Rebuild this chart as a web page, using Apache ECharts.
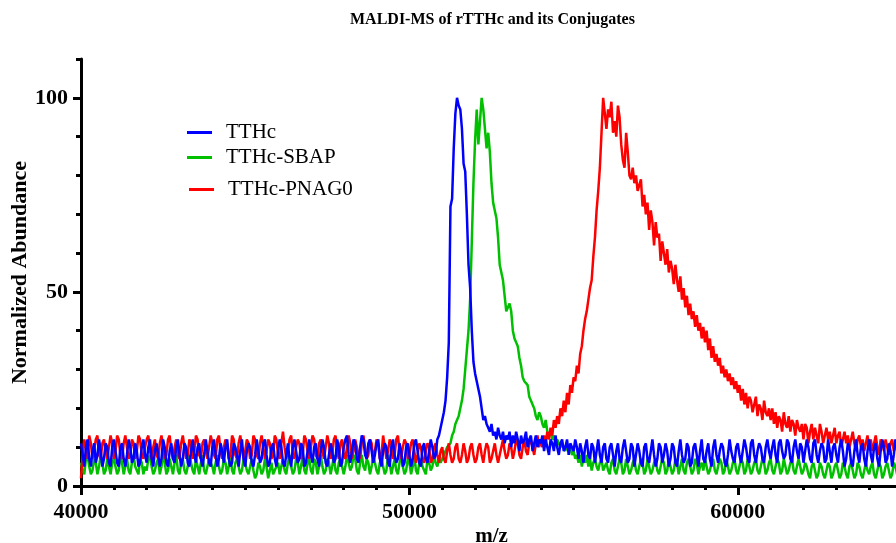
<!DOCTYPE html>
<html>
<head>
<meta charset="utf-8">
<script src="https://cdn.jsdelivr.net/npm/echarts@6/dist/echarts.min.js"></script>
<style>html,body{margin:0;padding:0;background:#fff}#c{width:896px;height:543px}</style>
</head>
<body>
<div id="c"></div>
<script>
// m/z sampling grid
const mzStart = 40000;
const mzStep = 50;

const seriesNames = ['TTHc', 'TTHc-SBAP', 'TTHc-PNAG0'];
const xTickLabels = [40000, 50000, 60000];
const yTickLabels = [0, 50, 100];

// Normalized abundance, one value every 50 m/z from 40000 to 65000 (20 per row = 1000 m/z)
const tthc = [
  11,8,5,10,12,  7,5,9,11,6,  8,12,9,5,7,  11,10,6,5,10,
  12,9,6,5,10,  11,7,5,8,12,  10,6,7,11,9,  5,6,10,12,8,
  6,10,12,7,5,  9,11,8,5,7,  12,10,6,5,9,  11,7,6,10,12,
  8,5,7,11,10,  6,5,9,12,8,  6,10,11,7,5,  8,12,9,6,5,
  10,12,8,5,7,  11,9,6,10,12,  7,5,6,11,10,  8,5,9,12,7,
  5,9,11,10,6,  5,8,12,9,6,  7,11,12,8,5,  6,10,11,7,5,
  9,12,10,6,5,  8,11,7,5,10,  12,9,6,7,11,  10,5,6,9,12,
  8,6,10,11,7,  5,9,12,10,6,  5,8,11,9,6,  7,12,10,5,6,
  10,12,13,8,6,  9,12,11,7,6,  10,13,12,8,7,  11,12,9,6,8,
  11,12,7,5,9,  11,10,6,5,10,  12,8,6,7,11,  9,5,6,10,11,
  8,5,7,11,12,  9,6,5,10,11,  7,6,9,12,10,  7,8,12,13,15,
  17,19,22,28,37,  72,74,87,96,100,  98,97,92,83,81,  70,57,51,40,32,
  29,27,25,23,20,  17,18,16,15,14,  16,13,14,12,15,  13,12,14,11,13,
  12,14,10,13,11,  14,12,9,13,11,  12,14,10,12,13,  9,11,13,10,12,
  11,13,9,12,10,  8,12,11,9,13,  10,8,11,12,9,  10,12,8,11,10,
  9,12,10,7,11,  9,6,10,12,8,  7,11,10,6,9,  12,8,6,10,11,
  7,6,10,11,8,  5,9,11,7,6,  10,12,9,6,7,  11,10,5,8,11,
  9,6,5,10,11,  7,6,9,12,8,  5,7,11,10,6,  8,11,9,5,7,
  11,10,6,5,9,  12,8,6,7,11,  10,5,6,10,11,  8,5,9,12,7,
  6,9,11,7,5,  10,12,8,6,9,  11,10,6,5,8,  12,9,7,6,10,
  11,8,6,9,12,  10,7,6,11,12,  8,6,9,11,10,  7,6,10,12,9,
  7,10,12,8,6,  11,12,9,7,8,  12,11,7,6,10,  12,9,7,11,10,
  6,9,12,10,7,  6,11,12,8,6,  9,11,10,6,7,  12,9,6,10,11,
  8,6,10,12,9,  5,7,11,10,6,  5,9,12,8,6,  10,11,7,5,9,
  12,8,6,10,11,  7,5,9,12,10,  6,7,11,9,5,  8,12,10,6,7,
  9
];

const tthcSbap = [
  6,4,3,7,8,  5,3,4,7,6,  3,5,8,6,3,  4,7,5,3,6,
  7,5,3,4,8,  6,3,5,7,4,  3,6,8,5,4,  3,7,6,3,5,
  4,7,8,5,3,  4,6,7,3,5,  8,6,3,4,7,  5,3,6,8,4,
  3,6,7,4,3,  5,8,6,4,3,  7,5,3,6,8,  4,3,5,7,6,
  5,3,6,8,5,  3,4,7,6,3,  5,8,4,3,6,  7,5,3,4,7,
  6,4,3,5,7,  4,2,3,6,5,  3,4,7,5,2,  4,6,3,3,5,
  6,3,5,7,4,  3,6,8,5,3,  4,7,6,3,5,  8,4,3,6,7,
  4,3,7,6,3,  5,8,5,3,4,  7,6,3,5,8,  4,3,6,7,5,
  3,5,8,6,4,  5,8,7,4,3,  6,8,5,4,7,  6,3,5,8,6,
  4,3,6,7,5,  3,4,8,6,3,  5,7,4,3,6,  8,5,3,4,7,
  6,3,5,8,4,  3,6,7,5,4,  3,7,6,4,5,  8,6,5,7,6,
  7,8,9,10,10,  11,13,14,16,17,  18,20,22,25,30,  35,40,48,63,78,
  89,97,88,94,100,  97,92,87,91,86,  78,73,71,69,64,  57,55,53,49,45,
  45,47,45,40,38,  37,36,33,31,28,  27,27,26,23,22,  21,20,18,17,19,
  18,16,15,17,14,  13,14,12,13,11,  12,12,10,11,10,  9,11,9,10,8,
  9,7,8,6,8,  5,7,6,8,5,  7,4,6,7,5,  4,6,7,4,5,
  6,4,3,6,7,  4,3,5,7,6,  3,4,7,5,3,  4,6,7,4,3,
  5,7,6,3,4,  7,5,3,4,6,  7,4,3,5,7,  6,3,4,7,5,
  3,4,7,6,3,  5,7,4,3,6,  7,5,3,4,7,  6,3,5,6,4,
  7,5,3,4,6,  7,4,3,5,7,  6,3,4,7,5,  3,4,6,7,4,
  3,5,7,6,3,  4,7,5,3,4,  6,7,4,3,5,  7,6,3,4,6,
  7,4,3,5,7,  6,3,4,7,5,  3,4,6,7,4,  3,5,7,5,3,
  4,6,5,3,2,  5,6,4,2,3,  6,5,3,2,4,  6,5,2,3,5,
  6,4,2,3,6,  5,3,2,5,6,  4,2,3,6,5,  3,2,4,6,4,
  3,5,6,3,2,  4,6,5,2,3,  5,6,4,2,3,  6,5,3,2,4,
  5
];

const tthcPnag0 = [
  2,8,12,10,7,  13,11,7,9,12,  13,8,7,11,12,  9,7,10,13,11,
  7,9,13,12,8,  7,11,13,10,7,  8,12,11,7,9,  13,12,8,7,10,
  12,13,9,7,10,  12,8,7,11,13,  10,7,8,12,13,  9,7,10,12,8,
  7,11,13,10,7,  8,12,11,7,9,  13,12,8,7,11,  12,9,7,10,13,
  11,8,7,12,13,  9,7,10,12,11,  7,8,13,12,8,  7,11,13,10,7,
  9,12,11,7,8,  13,12,8,7,11,  13,10,7,9,12,  11,7,8,13,12,
  8,7,11,14,10,  7,9,12,13,8,  7,10,12,11,7,  8,13,12,9,7,
  10,13,12,8,7,  11,12,9,7,10,  13,11,7,8,12,  13,9,7,11,12,
  8,7,10,13,11,  7,9,12,12,8,  7,11,13,10,7,  8,12,11,7,9,
  12,11,7,8,13,  10,7,9,12,11,  7,8,12,13,9,  7,10,12,11,7,
  8,11,12,9,6,  8,11,10,7,6,  9,11,10,6,7,  10,11,8,6,9,
  10,7,6,9,11,  8,6,7,10,11,  7,6,8,11,9,  6,7,10,11,8,
  6,7,10,11,8,  6,9,11,10,6,  7,9,11,8,6,  8,10,12,9,7,
  8,11,10,7,9,  12,11,8,7,10,  12,9,8,11,12,  10,8,11,13,10,
  12,10,13,11,14,  12,15,13,17,15,  18,16,20,18,22,  19,24,21,26,24,
  28,27,31,29,34,  36,40,43,45,48,  51,53,59,64,71,  76,82,91,100,96,
  92,97,95,99,91,  94,90,98,95,88,  84,82,91,86,80,  79,82,78,80,76,
  76,79,72,75,70,  73,66,71,68,62,  68,64,65,58,63,  60,57,61,55,58,
  56,52,57,53,50,  54,48,51,46,49,  44,47,43,45,41,  44,40,42,38,41,
  37,40,35,38,33,  36,32,34,31,33,  29,31,28,30,27,  29,26,28,25,27,
  24,26,22,25,21,  24,20,23,22,19,  21,23,18,21,20,  17,22,19,18,20,
  17,20,16,19,15,  18,17,14,19,16,  15,18,14,17,16,  13,17,15,14,16,
  12,16,15,11,14,  16,12,15,13,11,  16,14,11,13,15,  12,14,11,13,15,
  11,13,14,10,12,  14,11,13,10,12,  14,11,9,12,13,  10,12,9,11,13,
  10,12,9,11,13,  10,8,12,11,9,  12,10,8,11,12,  9,10,12,8,10,
  11
];

function toPairs(values) {
  return values.map((v, i) => [mzStart + i * mzStep, v]);
}

const FONT = 'Liberation Serif';
const chart = echarts.init(document.getElementById('c'), null, { renderer: 'canvas' });

function legendAt(name, left, top) {
  return {
    data: [name], left: left, top: top, orient: 'vertical', padding: 0,
    icon: 'rect', itemWidth: 25, itemHeight: 3,
    textStyle: { fontFamily: FONT, fontSize: 21, color: '#000', padding: [0, 0, 0, 9] },
    selectedMode: false
  };
}

const axisBlack = { color: '#000', width: 3 };

chart.setOption({
  animation: false,
  backgroundColor: '#fff',
  title: {
    text: 'MALDI-MS of rTTHc and its Conjugates',
    left: 345, top: 7,
    textStyle: { fontFamily: FONT, fontWeight: 'bold', fontSize: 16, color: '#000' }
  },
  legend: [
    legendAt(seriesNames[0], 187, 122),
    legendAt(seriesNames[1], 187, 147),
    legendAt(seriesNames[2], 189, 179)
  ],
  grid: { left: 81, top: 59, width: 821, height: 427, containLabel: false, outerBoundsMode: 'none' },
  xAxis: [
    {
      type: 'value', min: 40000, max: 65000, interval: 1000, position: 'bottom',
      axisLine: { show: true, onZero: false, lineStyle: axisBlack },
      axisTick: { show: true, length: 4, lineStyle: axisBlack },
      axisLabel: {
        customValues: xTickLabels, margin: 15,
        fontFamily: FONT, fontWeight: 'bold', fontSize: 22, color: '#000',
        formatter: v => String(v)
      },
      splitLine: { show: false },
      name: 'm/z', nameLocation: 'middle', nameGap: 40, nameMoveOverlap: false,
      nameTextStyle: { fontFamily: FONT, fontWeight: 'bold', fontSize: 21, color: '#000' }
    },
    {
      type: 'value', min: 40000, max: 65000, position: 'bottom',
      axisLine: { show: false, onZero: false },
      axisTick: { show: true, customValues: xTickLabels, length: 9, lineStyle: axisBlack },
      axisLabel: { show: false },
      splitLine: { show: false }
    }
  ],
  yAxis: [
    {
      type: 'value', min: 0, max: 110, interval: 10, position: 'left',
      axisLine: { show: true, onZero: false, lineStyle: axisBlack },
      axisTick: { show: true, length: 5, lineStyle: axisBlack },
      axisLabel: {
        customValues: yTickLabels, margin: 13,
        fontFamily: FONT, fontWeight: 'bold', fontSize: 22, color: '#000',
        formatter: v => String(v)
      },
      splitLine: { show: false },
      name: 'Normalized Abundance', nameLocation: 'middle', nameGap: 50, nameMoveOverlap: false,
      nameTextStyle: { fontFamily: FONT, fontWeight: 'bold', fontSize: 22, color: '#000' }
    },
    {
      type: 'value', min: 0, max: 110, position: 'left',
      axisLine: { show: false, onZero: false },
      axisTick: { show: true, customValues: yTickLabels, length: 8, lineStyle: axisBlack },
      axisLabel: { show: false },
      splitLine: { show: false }
    }
  ],
  series: [
    {
      name: seriesNames[1], type: 'line', data: toPairs(tthcSbap),
      showSymbol: false, symbol: 'none', color: '#00c000',
      lineStyle: { width: 2.5, color: '#00c000' }, itemStyle: { color: '#00c000' }
    },
    {
      name: seriesNames[2], type: 'line', data: toPairs(tthcPnag0),
      showSymbol: false, symbol: 'none', color: '#ff0000',
      lineStyle: { width: 2.5, color: '#ff0000' }, itemStyle: { color: '#ff0000' }
    },
    {
      name: seriesNames[0], type: 'line', data: toPairs(tthc),
      showSymbol: false, symbol: 'none', color: '#0000ff',
      lineStyle: { width: 2.5, color: '#0000ff' }, itemStyle: { color: '#0000ff' }
    }
  ]
});
</script>
</body>
</html>
